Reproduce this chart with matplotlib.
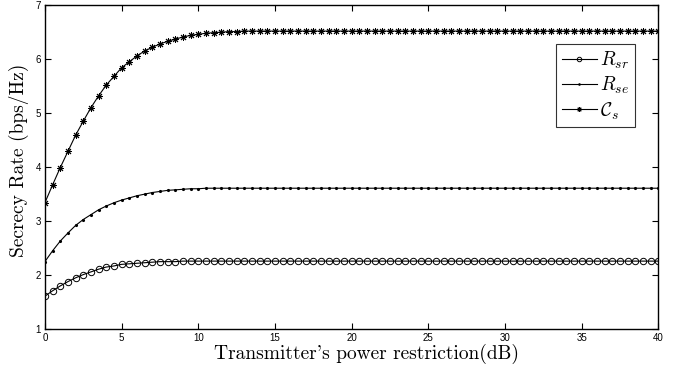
import numpy as np
import matplotlib
matplotlib.use("Agg")
import matplotlib.pyplot as plt

plt.rcParams['mathtext.fontset'] = 'cm'

# power restriction (dB), sampled every 0.5 dB
power_db = np.arange(0, 40.5, 0.5)

# values; flat after the knee
r_sr_head = [1.61, 1.71, 1.80, 1.88, 1.95, 2.01, 2.06, 2.11, 2.15, 2.17,
             2.20, 2.21, 2.22, 2.23, 2.24, 2.25, 2.25, 2.25, 2.26]
r_se_head = [2.25, 2.45, 2.63, 2.78, 2.92, 3.03, 3.12, 3.21, 3.28, 3.34,
             3.39, 3.43, 3.47, 3.50, 3.53, 3.55, 3.57, 3.58, 3.59, 3.60,
             3.60, 3.61]
c_s_head = [3.34, 3.67, 3.99, 4.29, 4.59, 4.85, 5.10, 5.32, 5.52, 5.68,
            5.84, 5.95, 6.06, 6.15, 6.22, 6.28, 6.33, 6.37, 6.41, 6.44,
            6.46, 6.48, 6.49, 6.50, 6.51, 6.51, 6.52]

r_sr = r_sr_head + [2.26] * (len(power_db) - len(r_sr_head))
r_se = r_se_head + [3.61] * (len(power_db) - len(r_se_head))
c_s = c_s_head + [6.52] * (len(power_db) - len(c_s_head))

fig = plt.figure(figsize=(6.8, 3.69), dpi=100)
ax = fig.add_axes([0.066, 0.108, 0.902, 0.878])

ax.plot(power_db, r_sr, 'k-', lw=0.8, marker='o', mfc='none', ms=4.6, mew=0.7,
        label=r'$R_{sr}$')
ax.plot(power_db, r_se, 'k-', lw=0.8, marker='.', ms=2.5, label=r'$R_{se}$')
ax.plot(power_db, c_s, 'k-', lw=0.8, marker=(8, 2, 0), ms=5, mew=0.7,
        label=r'$\mathcal{C}_s$')

ax.set_xlim(0, 40)
ax.set_ylim(1, 7)
ax.set_xticks(range(0, 41, 5))
ax.set_yticks(range(1, 8))
ax.tick_params(direction='in', top=True, right=True, labelsize=7,
               length=4, width=0.8, pad=3)
for lab in ax.get_xticklabels() + ax.get_yticklabels():
    lab.set_family('Liberation Sans')
for sp in ax.spines.values():
    sp.set_linewidth(1.0)

ax.set_xlabel("Transmitter's power restriction(dB)", family='cmr10',
              fontsize=14)
ax.set_ylabel("Secrecy Rate (bps/Hz)", family='cmr10', fontsize=14)
ax.xaxis.set_label_coords(0.524, -0.045, transform=ax.transAxes)
ax.yaxis.set_label_coords(-0.026, 0.52, transform=ax.transAxes)
ax.xaxis.label.set_va('top')

leg = ax.legend(loc='upper right', bbox_to_anchor=(0.9625, 0.88),
                fontsize=14, frameon=True, fancybox=False, edgecolor='k',
                handlelength=1.8, handletextpad=0.2, borderpad=0.3,
                labelspacing=0.2, borderaxespad=0, markerscale=0.7)
leg.get_frame().set_linewidth(0.8)

fig.savefig("out.png", dpi=100)
